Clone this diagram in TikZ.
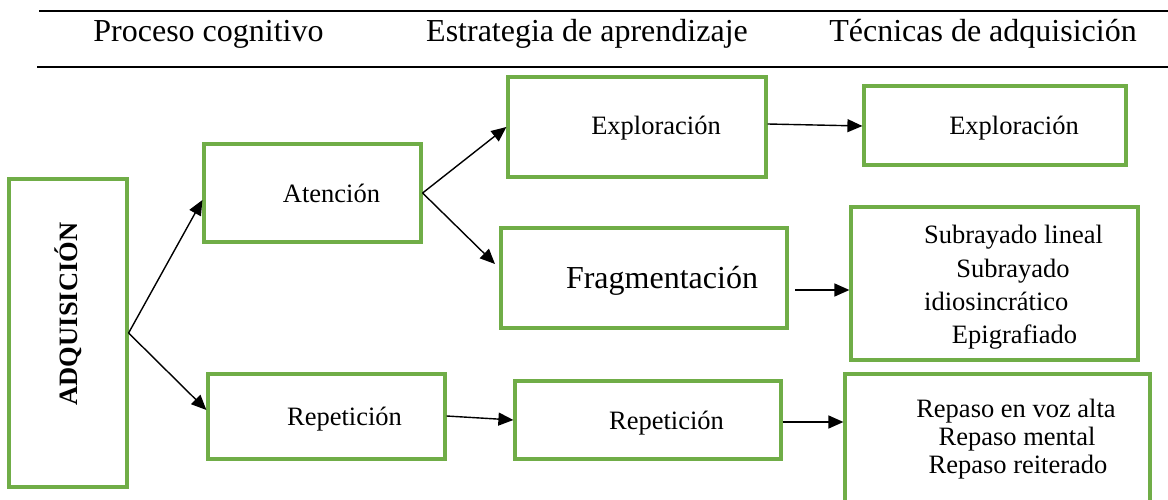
\documentclass[tikz,border=0pt]{standalone}
\usepackage{fontspec}
\setmainfont{Liberation Serif}
\usetikzlibrary{arrows.meta,calc}
\definecolor{boxgreen}{HTML}{70AD47}
\begin{document}
\begin{tikzpicture}[x=1pt,y=-1pt,
  box/.style={draw=boxgreen,line width=3.2pt,rectangle,inner sep=0pt},
  lbl/.style={inner sep=0pt,anchor=base,font=\fontsize{26.5}{30}\selectfont},
  biglbl/.style={inner sep=0pt,anchor=base,font=\fontsize{32}{36}\selectfont},
  arr/.style={line width=1.4pt,-{Triangle[length=15pt,width=13pt]}},
  rule/.style={line width=2.8pt}]
\useasboundingbox (0,0) rectangle (1168,500);
\clip (0,0) rectangle (1168,500);
% header
\coordinate (r1a) at (39,11); \coordinate (r1b) at (1168,11);
\coordinate (r2a) at (37,67); \coordinate (r2b) at (1168,67);
\draw[rule] (r1a) -- (r1b);
\draw[rule] (r2a) -- (r2b);
\node[biglbl] (h1) at (208.5,42) {Proceso cognitivo};
\node[biglbl] (h2) at (587,42) {Estrategia de aprendizaje};
\node[biglbl] (h3) at (983,42) {Técnicas de adquisición};
% boxes
\node[box,minimum width=118,minimum height=308] (adq) at (68,333) {};
\node[box,minimum width=217,minimum height=98] (aten) at (312.5,193) {};
\node[box,minimum width=237,minimum height=85] (rep1) at (326.5,416.5) {};
\node[box,minimum width=258,minimum height=100] (expl1) at (637,127) {};
\node[box,minimum width=286,minimum height=100] (frag) at (644,278) {};
\node[box,minimum width=266,minimum height=78] (rep2) at (648,420) {};
\node[box,minimum width=262,minimum height=79] (expl2) at (995,125.5) {};
\node[box,minimum width=287,minimum height=153] (subr) at (994.5,283.5) {};
\node[box,minimum width=305,minimum height=146] (repaso) at (997.5,447) {};
% texts
\node[lbl,rotate=90,font=\fontsize{26.5}{30}\selectfont\bfseries] (tadq) at (77,314) {ADQUISICIÓN};
\node[lbl] (taten) at (331.5,202) {Atención};
\node[lbl] (trep1) at (344.5,425) {Repetición};
\node[lbl] (texpl1) at (656,135) {Exploración};
\node[biglbl] (tfrag) at (662,288) {Fragmentación};
\node[lbl] (trep2) at (666.5,429) {Repetición};
\node[lbl] (texpl2) at (1014,135) {Exploración};
\node[lbl] (ts1) at (1013.5,243) {Subrayado lineal};
\node[lbl] (ts2) at (1013,277) {Subrayado};
\node[lbl,anchor=base west] (ts3) at (924,310) {idiosincrático};
\node[lbl] (ts4) at (1014.5,343) {Epigrafiado};
\node[lbl] (tr1) at (1016,417) {Repaso en voz alta};
\node[lbl] (tr2) at (1017,445) {Repaso mental};
\node[lbl] (tr3) at (1018,473) {Repaso reiterado};
% connectors
\coordinate (fragin) at (495,264);
\coordinate (fragout) at (795,290);
\draw[arr] (adq.east) -- (aten.west |- 0,200);
\draw[arr] (adq.east) -- (rep1.west |- 0,410);
\draw[arr] (aten.east) -- (expl1.west);
\draw[arr] (aten.east) -- (fragin);
\draw[arr] (expl1.east |- 0,124) -- (expl2.west |- 0,126);
\draw[arr] (fragout) -- (subr.west |- 0,290);
\draw[arr] (rep1.east |- 0,416) -- (rep2.west |- 0,420);
\draw[arr] (rep2.east |- 0,422) -- (repaso.west |- 0,422);
\end{tikzpicture}
\end{document}
